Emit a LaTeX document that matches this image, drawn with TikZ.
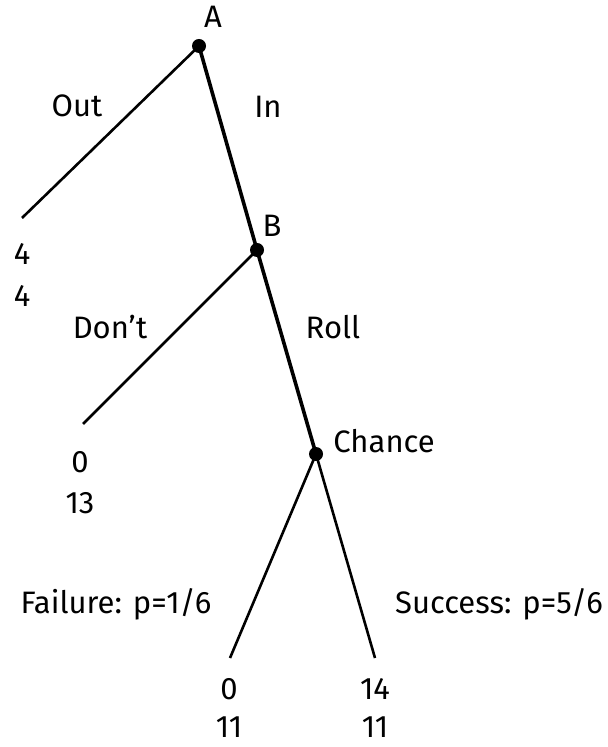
\documentclass[tikz,border=0pt]{standalone}
\usepackage{fontspec}
\setmainfont{Fira Sans}
\usetikzlibrary{positioning}
\tikzset{
    dec/.style={circle, fill=black, inner sep=0pt, minimum size=7pt},
    lab/.style={font=\fontsize{15.5}{17}\selectfont, inner sep=1pt},
    branch/.style={line width=1.3pt},
    path/.style={line width=1.8pt}
}

\begin{document}
\begin{tikzpicture}[x=0.5pt, y=-0.5pt]
    % Page frame
    \useasboundingbox (0,0) rectangle (608,747);

    % Decision and chance nodes
    \node[dec] (A) at (199,46) {};
    \node[dec] (B) at (257,250) {};
    \node[dec] (C) at (316,454) {};

    % Ends of the branches
    \coordinate (out) at (22,218);
    \coordinate (dont) at (83,424);
    \coordinate (fail) at (230,658);
    \coordinate (succ) at (375,658);

    % Branches
    \draw[branch] (A.center) -- (out);
    \draw[path] (A.center) -- (B.center);
    \draw[branch] (B.center) -- (dont);
    \draw[path] (B.center) -- (C.center);
    \draw[branch] (C.center) -- (fail);
    \draw[branch] (C.center) -- (succ);

    % Node names
    \node[lab] (nA) at (213,17) {A};
    \node[lab] (nB) at (272,226) {B};
    \node[lab, anchor=west] (nC) at (331,441) {Chance};

    % Move labels
    \node[lab] (lOut) at (77,106) {Out};
    \node[lab] (lIn) at (268,107) {In};
    \node[lab] (lDont) at (110,327) {Don't};
    \node[lab] (lRoll) at (333,327) {Roll};
    \node[lab] (lFail) at (116,604) {Failure: p=1/6};
    \node[lab] (lSucc) at (499,604) {Success: p=5/6};

    % Payoffs
    \node[lab] (pOut1) at (22,254) {4};
    \node[lab] (pOut2) at (22,296) {4};
    \node[lab] (pDont1) at (80,462) {0};
    \node[lab] (pDont2) at (80,503) {13};
    \node[lab] (pFail1) at (229,689) {0};
    \node[lab] (pFail2) at (229,727) {11};
    \node[lab] (pSucc1) at (375,689) {14};
    \node[lab] (pSucc2) at (375,727) {11};
\end{tikzpicture}
\end{document}
